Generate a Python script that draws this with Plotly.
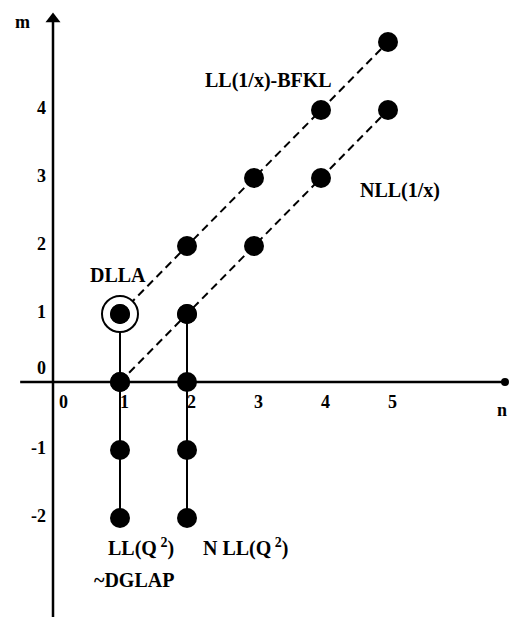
import plotly.graph_objects as go

# ---- data ----
ll_n = [1, 2, 3, 4, 5]          # LL(1/x)-BFKL diagonal
ll_m = [1, 2, 3, 4, 5]
nll_n = [1, 2, 3, 4, 5]         # NLL(1/x) diagonal
nll_m = [0, 1, 2, 3, 4]
dglap_n = [1, 1, 1, 1]          # LL(Q^2) column
dglap_m = [1, 0, -1, -2]
nlo_n = [2, 2, 2, 2]            # N LL(Q^2) column
nlo_m = [1, 0, -1, -2]
dlla_n = [1]
dlla_m = [1]

x_ticks = [0, 1, 2, 3, 4, 5]
y_ticks = [-2, -1, 0, 1, 2, 3, 4]

labels = [
    ("LL(1/x)-BFKL", 3.21, 4.44),
    ("NLL(1/x)", 5.18, 2.82),
    ("DLLA", 0.97, 1.57),
    ("LL(Q<sup> 2</sup>)", 1.31, -2.43),
    ("N LL(Q<sup> 2</sup>)", 2.88, -2.43),
    ("~DGLAP", 1.21, -2.91),
]

FONT = "Liberation Serif"
fig = go.Figure()

# axes
fig.add_trace(go.Scatter(x=[-0.49, 6.746], y=[0, 0], mode="lines",
                         line=dict(color="black", width=2.5), hoverinfo="skip"))
fig.add_trace(go.Scatter(x=[6.746], y=[0], mode="markers",
                         marker=dict(color="black", size=8), hoverinfo="skip"))
fig.add_trace(go.Scatter(x=[0, 0], y=[-3.6, 5.3], mode="lines",
                         line=dict(color="black", width=2.5), hoverinfo="skip"))
fig.add_trace(go.Scatter(x=[0], y=[5.34], mode="markers",
                         marker=dict(symbol="triangle-up", color="black", size=13,
                                     line=dict(width=0)), hoverinfo="skip"))

# lines
dash = "8px,5px"
fig.add_trace(go.Scatter(x=ll_n, y=ll_m, mode="lines",
                         line=dict(color="black", width=2, dash=dash)))
fig.add_trace(go.Scatter(x=nll_n, y=nll_m, mode="lines",
                         line=dict(color="black", width=2, dash=dash)))
fig.add_trace(go.Scatter(x=dglap_n, y=dglap_m, mode="lines",
                         line=dict(color="black", width=2)))
fig.add_trace(go.Scatter(x=nlo_n, y=nlo_m, mode="lines",
                         line=dict(color="black", width=2)))

# DLLA ring
fig.add_trace(go.Scatter(x=dlla_n, y=dlla_m, mode="markers",
                         marker=dict(size=36, color="white",
                                     line=dict(color="black", width=2))))

# dots
for xs, ys in [(ll_n, ll_m), (nll_n, nll_m), (dglap_n, dglap_m), (nlo_n, nlo_m)]:
    fig.add_trace(go.Scatter(x=xs, y=ys, mode="markers",
                             marker=dict(size=20, color="black")))

tick_font = dict(family=FONT, size=18, color="black", weight="bold")
for t in y_ticks:
    fig.add_annotation(x=0, y=t, text=str(t), showarrow=False, font=tick_font,
                       xshift=-12 if t >= 0 else -15, yshift=14 if t == 0 else 2)
for t in x_ticks:
    fig.add_annotation(x=t, y=0, text=str(t), showarrow=False, font=tick_font,
                       xshift=10 if t == 0 else 4, yshift=-20)

fig.add_annotation(x=-0.46, y=5.29, text="m", showarrow=False, font=tick_font)
fig.add_annotation(x=6.70, y=-0.41, text="n", showarrow=False, font=tick_font)

lab_font = dict(family=FONT, size=20, color="black", weight="bold")
for txt, lx, ly in labels:
    fig.add_annotation(x=lx, y=ly, text=txt, showarrow=False, font=lab_font)

fig.update_layout(
    width=509, height=617, margin=dict(l=0, r=0, t=0, b=0),
    paper_bgcolor="white", plot_bgcolor="white", showlegend=False,
    xaxis=dict(range=[-53 / 67, 456 / 67], visible=False, fixedrange=True),
    yaxis=dict(range=[-235 / 68, 382 / 68], visible=False, fixedrange=True),
)
fig.write_html("out.html")
